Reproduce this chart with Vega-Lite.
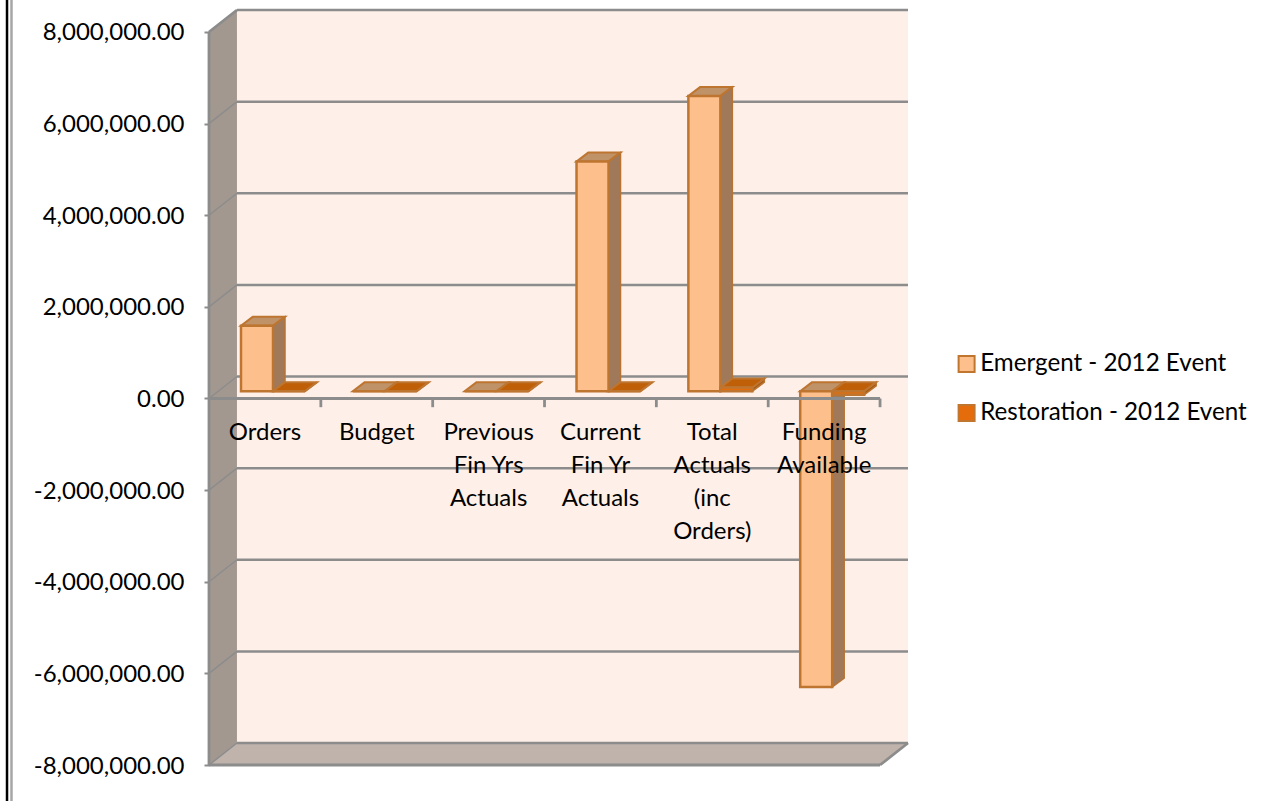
{
"$schema":"https://vega.github.io/schema/vega-lite/v6.json",
"autosize":{"type":"none"},
"padding":{"left":209,"top":10,"right":367,"bottom":36},
"width":699,"height":755,
"background":"#ffffff",
"datasets":{
"bars":[
{"category":"Orders","series":"Emergent - 2012 Event","value":1430000},
{"category":"Budget","series":"Emergent - 2012 Event","value":0},
{"category":"Previous Fin Yrs Actuals","series":"Emergent - 2012 Event","value":0},
{"category":"Current Fin Yr Actuals","series":"Emergent - 2012 Event","value":5015000},
{"category":"Total Actuals (inc Orders)","series":"Emergent - 2012 Event","value":6445000},
{"category":"Funding Available","series":"Emergent - 2012 Event","value":-6460000},
{"category":"Orders","series":"Restoration - 2012 Event","value":0},
{"category":"Budget","series":"Restoration - 2012 Event","value":0},
{"category":"Previous Fin Yrs Actuals","series":"Restoration - 2012 Event","value":0},
{"category":"Current Fin Yr Actuals","series":"Restoration - 2012 Event","value":0},
{"category":"Total Actuals (inc Orders)","series":"Restoration - 2012 Event","value":80000},
{"category":"Funding Available","series":"Restoration - 2012 Event","value":-80000}
],
"cats":[
{"i":0,"y":-495000,"label":"Orders"},
{"i":1,"y":-495000,"label":"Budget"},
{"i":2,"y":-495000,"label":"Previous\nFin Yrs\nActuals"},
{"i":3,"y":-495000,"label":"Current\nFin Yr\nActuals"},
{"i":4,"y":-495000,"label":"Total\nActuals\n(inc\nOrders)"},
{"i":5,"y":-495000,"label":"Funding\nAvailable"}
],
"grid":[{"v":-8000000},{"v":-6000000},{"v":-4000000},{"v":-2000000},{"v":0},{"v":2000000},{"v":4000000},{"v":6000000},{"v":8000000}],
"sideWall":[{"x":0,"low":-8000000,"high":8000000},{"x":0.25,"low":-7520000,"high":8480000}],
"floor":[{"y":-8000000,"x":0,"x2":6},{"y":-7520000,"x":0.25,"x2":6.25}],
"backWall":[{"x":0.25,"x2":6.25,"y":-7520000,"y2":8480000}],
"edges":[
{"x":0,"x2":0,"y":-8000000,"y2":8000000},
{"x":0,"x2":6,"y":-8000000,"y2":-8000000},
{"x":0,"x2":0.25,"y":8000000,"y2":8480000},
{"x":6,"x2":6.25,"y":-8000000,"y2":-7520000},
{"x":0,"x2":6,"y":0,"y2":0},
{"x":1,"x2":1,"y":0,"y2":-190000},
{"x":2,"x2":2,"y":0,"y2":-190000},
{"x":3,"x2":3,"y":0,"y2":-190000},
{"x":4,"x2":4,"y":0,"y2":-190000},
{"x":5,"x2":5,"y":0,"y2":-190000},
{"x":6,"x2":6,"y":0,"y2":-190000}
],
"frame":[{"x":-1.806,"y":8700000,"y2":-8790000,"c":"black"},{"x":-1.766,"y":8700000,"y2":-8790000,"c":"gray"}]
},
"layer":[
{"data":{"name":"backWall"},"mark":{"type":"rect","fill":"#FEF0E9"},
 "encoding":{"x":{"field":"x","type":"quantitative","scale":{"domain":[0,6.25],"nice":false,"zero":false},"axis":null},"x2":{"field":"x2"},
 "y":{"field":"y","type":"quantitative","scale":{"domain":[-8000000,8480000],"nice":false,"zero":false},
   "axis":{"values":[-8000000,-6000000,-4000000,-2000000,0,2000000,4000000,6000000,8000000],"title":null,"grid":false,"domain":false,"tickSize":5,"tickColor":"#8C8C8C","tickWidth":2,"labelPadding":20,"labelFont":"Lato","labelFontSize":24,"labelOffset":1,"labelColor":"#000000","labelExpr":"replace(format(datum.value,',.2f'),'−','-')","labelOverlap":false,"labelFlush":false}},"y2":{"field":"y2"}}},
{"data":{"name":"frame"},"mark":{"type":"rule","strokeWidth":2.5,"clip":false},
 "encoding":{"x":{"field":"x","type":"quantitative"},"y":{"field":"y","type":"quantitative"},"y2":{"field":"y2"},
 "stroke":{"field":"c","type":"nominal","scale":{"domain":["black","gray"],"range":["#000000","#a6a6a6"]},"legend":null}}},
{"data":{"name":"sideWall"},"mark":{"type":"area","orient":"vertical","fill":"#A2988F"},
 "encoding":{"x":{"field":"x","type":"quantitative"},"y":{"field":"low","type":"quantitative","stack":null},"y2":{"field":"high"}}},
{"data":{"name":"floor"},"mark":{"type":"area","orient":"horizontal","fill":"#BFB3AC"},
 "encoding":{"y":{"field":"y","type":"quantitative"},"x":{"field":"x","type":"quantitative","stack":null},"x2":{"field":"x2"}}},
{"data":{"name":"grid"},"transform":[{"calculate":"datum.v+480000","as":"vb"},{"calculate":"0.25","as":"gx"},{"calculate":"6.25","as":"gx2"}],"mark":{"type":"rule","stroke":"#8C8C8C","strokeWidth":2.5},
 "encoding":{"x":{"field":"gx","type":"quantitative"},"x2":{"field":"gx2"},"y":{"field":"vb","type":"quantitative"}}},
{"data":{"name":"grid"},"transform":[{"calculate":"datum.v+480000","as":"vb"},{"calculate":"0","as":"gx"},{"calculate":"0.25","as":"gx2"}],"mark":{"type":"rule","stroke":"#8C8C8C","strokeWidth":1.5},
 "encoding":{"x":{"field":"gx","type":"quantitative"},"x2":{"field":"gx2"},"y":{"field":"v","type":"quantitative"},"y2":{"field":"vb"}}},
{"data":{"name":"bars"},
 "transform":[
 {"calculate":"indexof(['Orders','Budget','Previous Fin Yrs Actuals','Current Fin Yr Actuals','Total Actuals (inc Orders)','Funding Available'],datum.category)","as":"i"},
 {"calculate":"datum.i+0.2861+(datum.series[0]=='R'?0.2862:0)","as":"xl"},
 {"calculate":"datum.xl+0.2862","as":"xr"},
 {"calculate":"max(datum.value,0)+160000","as":"yt"},
 {"calculate":"min(datum.value,0)+160000","as":"yb"},
 {"calculate":"[0,1]","as":"t"},
 {"flatten":["t"]},
 {"calculate":"datum.xr+datum.t*0.1073","as":"sx"},
 {"calculate":"datum.yt+datum.t*196400","as":"sy"},
 {"calculate":"datum.yb+datum.t*196400","as":"sy2"}
 ],
 "mark":{"type":"area","orient":"vertical","stroke":"#B87333","strokeWidth":1.5},
 "encoding":{"x":{"field":"sx","type":"quantitative"},"y":{"field":"sy","type":"quantitative","stack":null},"y2":{"field":"sy2"},
 "detail":{"field":"category"},
 "fill":{"field":"series","type":"nominal","scale":{"domain":["Emergent - 2012 Event","Restoration - 2012 Event"],"range":["#A0795A","#A85A10"]},"legend":null}}},
{"data":{"name":"bars"},
 "transform":[
 {"calculate":"indexof(['Orders','Budget','Previous Fin Yrs Actuals','Current Fin Yr Actuals','Total Actuals (inc Orders)','Funding Available'],datum.category)","as":"i"},
 {"calculate":"datum.i+0.2861+(datum.series[0]=='R'?0.2862:0)","as":"xl"},
 {"calculate":"datum.xl+0.2862","as":"xr"},
 {"calculate":"max(datum.value,0)+160000","as":"yt"},
 {"calculate":"[0,1]","as":"t"},
 {"flatten":["t"]},
 {"calculate":"datum.xl+datum.t*0.1073","as":"tx"},
 {"calculate":"datum.xr+datum.t*0.1073","as":"tx2"},
 {"calculate":"datum.yt+datum.t*196400","as":"ty"}
 ],
 "mark":{"type":"area","orient":"horizontal","stroke":"#BE7530","strokeWidth":2},
 "encoding":{"y":{"field":"ty","type":"quantitative"},"x":{"field":"tx","type":"quantitative","stack":null},"x2":{"field":"tx2"},
 "detail":{"field":"category"},
 "fill":{"field":"series","type":"nominal","scale":{"domain":["Emergent - 2012 Event","Restoration - 2012 Event"],"range":["#BF9268","#BF5F08"]},"legend":null}}},
{"data":{"name":"bars"},
 "transform":[
 {"calculate":"indexof(['Orders','Budget','Previous Fin Yrs Actuals','Current Fin Yr Actuals','Total Actuals (inc Orders)','Funding Available'],datum.category)","as":"i"},
 {"calculate":"datum.i+0.2861+(datum.series[0]=='R'?0.2862:0)","as":"xl"},
 {"calculate":"datum.xl+0.2862","as":"xr"},
 {"calculate":"max(datum.value,0)+160000","as":"yt"},
 {"calculate":"min(datum.value,0)+160000","as":"yb"}
 ],
 "mark":{"type":"rect","stroke":"#BE7530","strokeWidth":2.5},
 "encoding":{"x":{"field":"xl","type":"quantitative"},"x2":{"field":"xr"},"y":{"field":"yb","type":"quantitative"},"y2":{"field":"yt"},
 "fill":{"field":"series","type":"nominal","scale":{"domain":["Emergent - 2012 Event","Restoration - 2012 Event"],"range":["#FDC08C","#E46C0A"]},
 "legend":{"title":null,"orient":"none","legendX":745.5,"legendY":342,"symbolType":"square","symbolSize":256,"symbolStrokeColor":"#C0762F","symbolStrokeWidth":2,"labelFont":"Lato","labelFontSize":24.2,"labelColor":"#000000","labelOffset":1.5,"rowPadding":24,"labelLimit":400}}}},
{"data":{"name":"edges"},"mark":{"type":"rule","stroke":"#8C8C8C","strokeWidth":2.8},
 "encoding":{"x":{"field":"x","type":"quantitative"},"x2":{"field":"x2"},"y":{"field":"y","type":"quantitative"},"y2":{"field":"y2"}}},
{"data":{"name":"cats"},"transform":[{"calculate":"datum.i+0.5","as":"xc"}],
 "mark":{"type":"text","font":"Lato","fontSize":24,"color":"#000000","align":"center","baseline":"top","lineBreak":"\n","lineHeight":33},
 "encoding":{"x":{"field":"xc","type":"quantitative"},"y":{"field":"y","type":"quantitative"},"text":{"field":"label"}}}
],
"resolve":{"scale":{"fill":"independent"}},
"config":{"view":{"stroke":null}}
}
